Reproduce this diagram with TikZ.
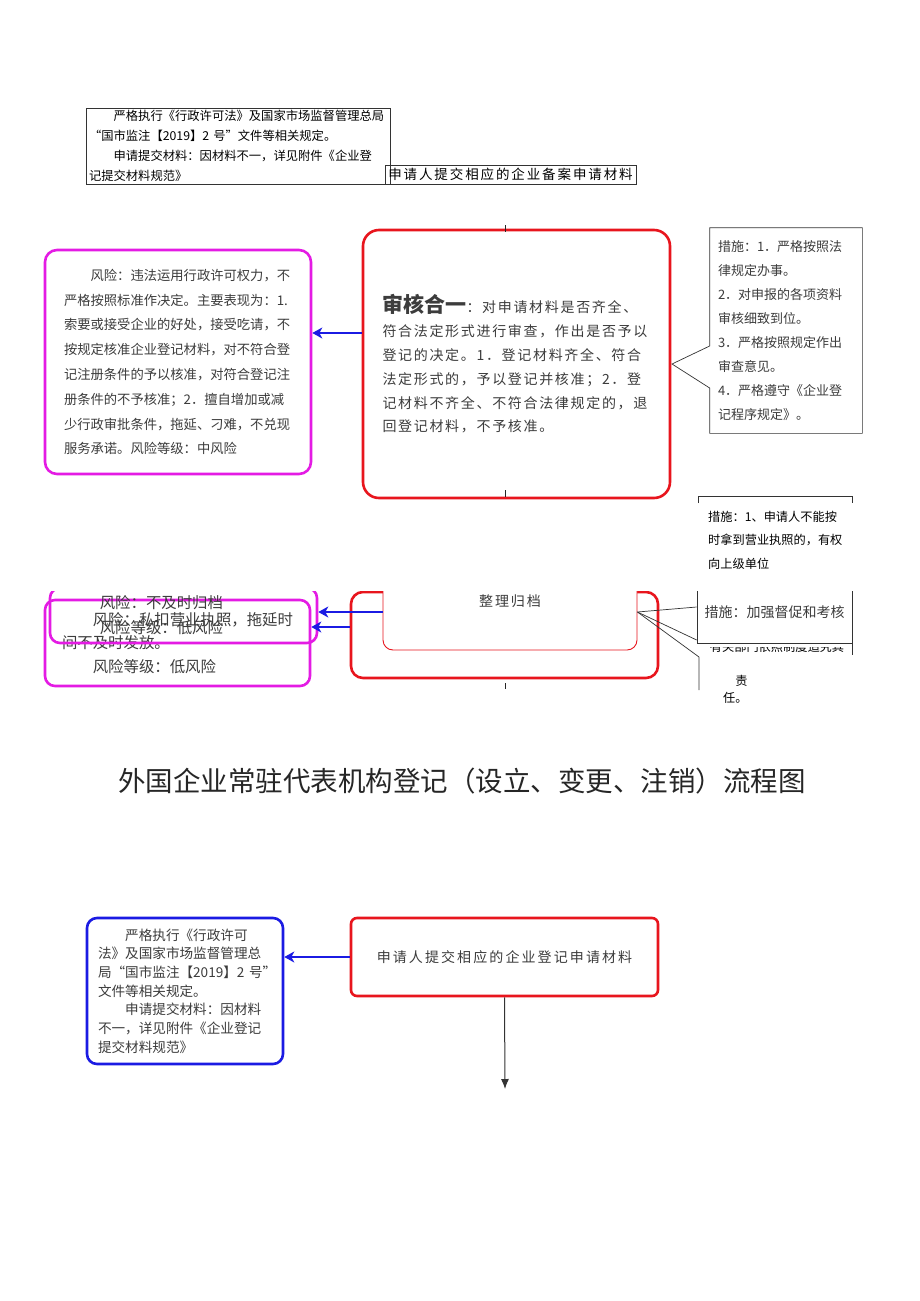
\documentclass[tikz,border=0pt]{standalone}
\usepackage{fontspec}
\setmainfont{Noto Sans CJK SC}
\usepackage{xcolor}
\usepackage{tikz}
\usetikzlibrary{positioning, arrows.meta}
\definecolor{riskpink}{HTML}{E41BE4}
\definecolor{boxred}{HTML}{E8151D}
\definecolor{linkblue}{HTML}{1B1BE3}
\definecolor{bodygray}{HTML}{3C3C3C}

\begin{document}
\begin{tikzpicture}[x=1pt, y=-1pt,
    riskbox/.style={draw=riskpink, line width=2.6pt, rounded corners=12pt, align=left, text=bodygray, inner xsep=0pt, inner ysep=0pt},
    mainbox/.style={draw=boxred, line width=2.6pt, rounded corners=16pt, align=left, text=bodygray, inner xsep=0pt, inner ysep=0pt},
    notebox/.style={draw=black!80, line width=0.7pt, align=left, inner xsep=0pt, inner ysep=0pt},
    noteline/.style={draw=black!80, line width=0.7pt},
    stub/.style={draw=black!85, line width=1pt},
    bluelink/.style={draw=linkblue, line width=2.6pt, -{Stealth[length=10pt, width=11pt, inset=3pt]}},
    flowlink/.style={draw=black!80, line width=1pt, -{Latex[length=10pt, width=8pt]}}]
  \fill[white] (0,0) rectangle (920,1301);
  \useasboundingbox (0,0) rectangle (920,1301);

  % top strip
  \node[notebox, text width=298pt, minimum width=304pt, minimum height=76pt,
        font=\fontsize{12.3}{20}\selectfont] (rulesNote) at (238,146) {%
    　　严格执行《行政许可法》及国家市场监督管理总局\\
    “国市监注【2019】2~号”文件等相关规定。\\
    　　申请提交材料：因材料不一，详见附件《企业登\\
    记提交材料规范》};
  \node[notebox, minimum width=251pt, minimum height=19pt,
        font=\fontsize{13.5}{16}\selectfont\addfontfeatures{LetterSpace=14}] (applyNote) at (510.5,174.5) {申请人提交相应的企业备案申请材料};

  % check step
  \node[riskbox, text width=228pt, minimum width=266pt, minimum height=224pt,
        font=\fontsize{13.3}{24.8}\selectfont] (riskCheck) at (178,362) {%
    　　风险：违法运用行政许可权力，不\\
    严格按照标准作决定。主要表现为：1.\\
    索要或接受企业的好处，接受吃请，不\\
    按规定核准企业登记材料，对不符合登\\
    记注册条件的予以核准，对符合登记注\\
    册条件的不予核准；2．擅自增加或减\\
    少行政审批条件，拖延、刁难，不兑现\\
    服务承诺。风险等级：中风险};
  \node[mainbox, text width=268pt, minimum width=307pt, minimum height=268pt,
        font=\fontsize{14}{23.8}\selectfont\addfontfeatures{LetterSpace=12}] (checkBox) at (516.5,364) {%
    {\bfseries\fontsize{21}{23.8}\selectfont\addfontfeatures{LetterSpace=0}审核合一}：对申请材料是否齐全、\\
    符合法定形式进行审查，作出是否予以\\
    登记的决定。1．登记材料齐全、符合\\
    法定形式的，予以登记并核准；2．登\\
    记材料不齐全、不符合法律规定的，退\\
    回登记材料，不予核准。};
  \node[notebox, draw=none, text width=136pt, minimum width=152pt, minimum height=205pt,
        font=\fontsize{13}{24}\selectfont, text=bodygray] (measureCheck) at (786,330.5) {%
    措施：1．严格按照法\\
    律规定办事。\\
    2．对申报的各项资料\\
    审核细致到位。\\
    3．严格按照规定作出\\
    审查意见。\\
    4．严格遵守《企业登\\
    记程序规定》。};
  \draw[noteline] (measureCheck.north west) -- (measureCheck.north east) -- (measureCheck.south east)
    -- (measureCheck.south west) -- (measureCheck.west |- 0,388) -- (672,364)
    -- (measureCheck.west |- 0,346) -- cycle;
  \draw[bluelink] (checkBox.west |- 0,333) -- (riskCheck.east |- 0,333);
  \draw[stub] (505,225) -- (505,232);
  \draw[stub] (505,490) -- (505,497);

  % measure of the licence step
  \node[anchor=west, align=left, inner sep=0pt, font=\fontsize{12.2}{23.5}\selectfont] (measureLate) at (708,540) {%
    措施：1、申请人不能按\\
    时拿到营业执照的，有权\\
    向上级单位};
  \draw[noteline] (698,503) -- (698,496) -- (852,496) -- (852,503);

  % archive step, cut off at the top
  \begin{scope}
    \clip (0,591) rectangle (920,706);
    \node[riskbox, rounded corners=10pt, text width=231pt, minimum width=265pt, minimum height=86pt,
          font=\fontsize{15.4}{23.5}\selectfont] (riskLate) at (177.5,643) {%
      　　风险：私扣营业执照，拖延时\\
      间不及时发放。\\
      　　风险等级：低风险};
    \node[riskbox, rounded corners=10pt, text width=229pt, minimum width=267pt, minimum height=55pt,
          font=\fontsize{15.4}{25}\selectfont] (riskArchive) at (183.5,615.5) {%
      　　风险：不及时归档\\
      　　风险等级：低风险};
    \node[mainbox, rounded corners=12pt, minimum width=307pt, minimum height=86pt] (archiveOuter) at (504.5,635) {};
    \node[draw=boxred, line width=0.9pt, fill=white, rounded corners=10pt, minimum width=254pt, minimum height=98pt,
          text=bodygray, font=\fontsize{14}{16}\selectfont\addfontfeatures{LetterSpace=14}] (archiveBox) at (510,601) {整理归档};
    \begin{scope}
      \clip (700,647) rectangle (852,660);
      \node[font=\fontsize{12.2}{14}\selectfont] (lateHidden) at (777,647) {有关部门依照制度追究其};
    \end{scope}
    \node[notebox, fill=white, text width=140pt, minimum width=155pt, minimum height=62pt,
          font=\fontsize{14}{18}\selectfont, text=bodygray] (measureArchive) at (774.5,612) {措施：加强督促和考核};
    \draw[noteline] (measureArchive.south east) -- ++(0,12);
    \draw[noteline] (archiveBox.east |- 0,612) -- (measureArchive.west |- 0,607);
    \draw[noteline] (archiveBox.east |- 0,612) -- (measureArchive.west |- 0,640);
    \draw[noteline] (archiveBox.east |- 0,612) -- (699,657) -- (699,690);
    \node[anchor=west, align=left, inner sep=0pt, font=\fontsize{12.2}{17}\selectfont] (dutyText) at (723,689) {%
      　责\\
      任。};
  \end{scope}
  \draw[bluelink] (archiveBox.west |- 0,612) -- (riskArchive.east |- 0,612);
  \draw[bluelink] (archiveOuter.west |- 0,627) -- (riskLate.east |- 0,627);
  \draw[stub] (505,683) -- (505,689);

  % title
  \node[font=\fontsize{27.5}{30}\selectfont, text=black!85] (chartTitle) at (462,781) {外国企业常驻代表机构登记（设立、变更、注销）流程图};

  % first step of the chart
  \node[draw=linkblue, line width=2.6pt, rounded corners=10pt, align=left, inner xsep=0pt, inner ysep=0pt,
        text width=174pt, minimum width=196pt, minimum height=146pt, text=bodygray,
        font=\fontsize{13.6}{18.7}\selectfont] (rulesBox) at (185,991) {%
    　　严格执行《行政许可\\
    法》及国家市场监督管理总\\
    局“国市监注【2019】2~号”\\
    文件等相关规定。\\
    　　申请提交材料：因材料\\
    不一，详见附件《企业登记\\
    提交材料规范》};
  \node[mainbox, rounded corners=6pt, minimum width=307pt, minimum height=78pt,
        font=\fontsize{14}{16}\selectfont\addfontfeatures{LetterSpace=15}] (applyBox) at (504.5,957) {申请人提交相应的企业登记申请材料};
  \coordinate (nextStep) at (505,1089);
  \draw[bluelink] (applyBox.west) -- (rulesBox.east |- applyBox.west);
  \draw[flowlink] (applyBox.south) -- (nextStep);
\end{tikzpicture}
\end{document}
